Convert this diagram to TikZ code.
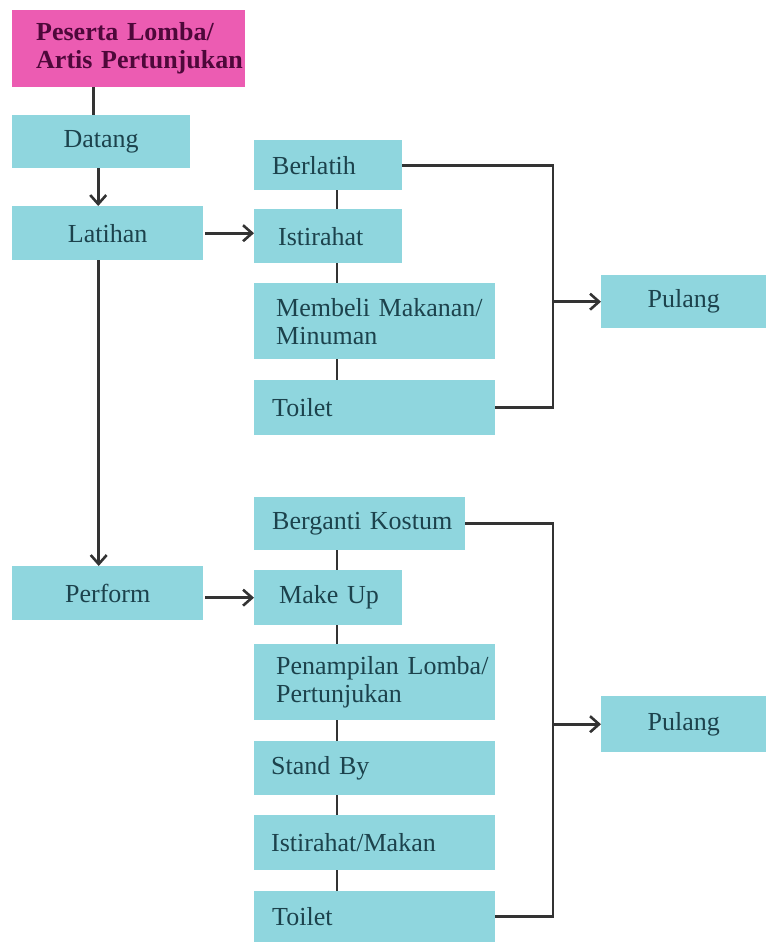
\documentclass[tikz,border=0pt]{standalone}
\usepackage{fontspec}
\setmainfont{Liberation Serif}
\usetikzlibrary{arrows.meta,positioning}

\definecolor{boxcyan}{RGB}{143,214,222}
\definecolor{boxpink}{RGB}{236,92,178}
\definecolor{inkteal}{RGB}{28,66,76}
\definecolor{inkplum}{RGB}{78,8,58}
\definecolor{wire}{RGB}{51,51,51}

% left indent of a text line inside a box
\newcommand\pad[1]{\hspace*{#1pt}}

\begin{document}
\begin{tikzpicture}[x=1pt,y=-1pt,>={Straight Barb[length=9pt,width=16pt]},
  font=\fontsize{26}{28}\selectfont,
  base/.style={fill=boxcyan,text=inkteal,anchor=north west,inner sep=0pt,minimum height=54pt},
  stage/.style={base,align=center},
  task/.style={base,align=left,text width=#1},
  link/.style={draw=wire,line width=2.6pt},
  flow/.style={link,->}]
\useasboundingbox (0,0) rectangle (766,942);
% left column: the main stages
\node[task=233pt,fill=boxpink,text=inkplum,font=\fontsize{26}{28}\selectfont\bfseries,
      minimum height=77pt]
      (peserta) at (12,10) {\pad{24}Peserta Lomba/\\\pad{24}Artis Pertunjukan};
\node[stage,minimum width=178pt,minimum height=53pt] (datang) at (12,115) {Datang};
\node[stage,minimum width=191pt] (latihan) at (12,206) {Latihan};
\node[stage,minimum width=191pt] (perform) at (12,566) {Perform};
% rehearsal activities
\node[task=148pt,minimum height=50pt] (berlatih) at (254,140) {\pad{18}Berlatih};
\node[task=148pt] (istA) at (254,209) {\pad{24}Istirahat};
\node[task=241pt,minimum height=76pt] (beli) at (254,283) {\pad{22}Membeli Makanan/\\\pad{22}Minuman};
\node[task=241pt,minimum height=55pt] (toiletA) at (254,380) {\pad{18}Toilet};
% performance activities
\node[task=211pt,minimum height=53pt] (ganti) at (254,497) {\pad{18}Berganti Kostum};
\node[task=148pt,minimum height=55pt] (makeup) at (254,570) {\pad{25}Make Up};
\node[task=241pt,minimum height=76pt] (tampil) at (254,644) {\pad{22}Penampilan Lomba/\\\pad{22}Pertunjukan};
\node[task=241pt] (standby) at (254,741) {\pad{17}Stand By};
\node[task=241pt,minimum height=55pt] (istB) at (254,815) {\pad{17}Istirahat/Makan};
\node[task=241pt,minimum height=51pt] (toiletB) at (254,891) {\pad{18}Toilet};
% exits
\node[stage,minimum width=165pt,minimum height=53pt] (pulangA) at (601,275) {Pulang};
\node[stage,minimum width=165pt,minimum height=56pt] (pulangB) at (601,696) {Pulang};

\coordinate (axis) at (337,0);
\coordinate (bus) at (553,0);

\draw[link] ([xshift=-8pt]datang.north |- peserta.south) -- ([xshift=-8pt]datang.north);
\draw[flow] ([xshift=-3pt]datang.south) -- ([xshift=-3pt]datang.south |- latihan.north);
\draw[flow] ([xshift=-9pt]latihan.south) -- ([xshift=-9pt]perform.north);
\draw[flow] ([xshift=2pt]latihan.east) -- (istA.west |- latihan.east);
\draw[flow] ([xshift=2pt]perform.east |- makeup.west) -- (makeup.west);

\foreach \a/\b in {berlatih/istA,istA/beli,beli/toiletA,
                   ganti/makeup,makeup/tampil,tampil/standby,standby/istB,istB/toiletB}
  \draw[link] (\a.south -| axis) -- (\b.north -| axis);

\draw[link] (berlatih.east) -- (berlatih.east -| bus) -- (toiletA.east -| bus) -- (toiletA.east);
\draw[flow] (bus |- pulangA.west) -- (pulangA.west);
\draw[link] (ganti.east) -- (ganti.east -| bus) -- (toiletB.east -| bus) -- (toiletB.east);
\draw[flow] (bus |- pulangB.west) -- (pulangB.west);
\end{tikzpicture}
\end{document}
